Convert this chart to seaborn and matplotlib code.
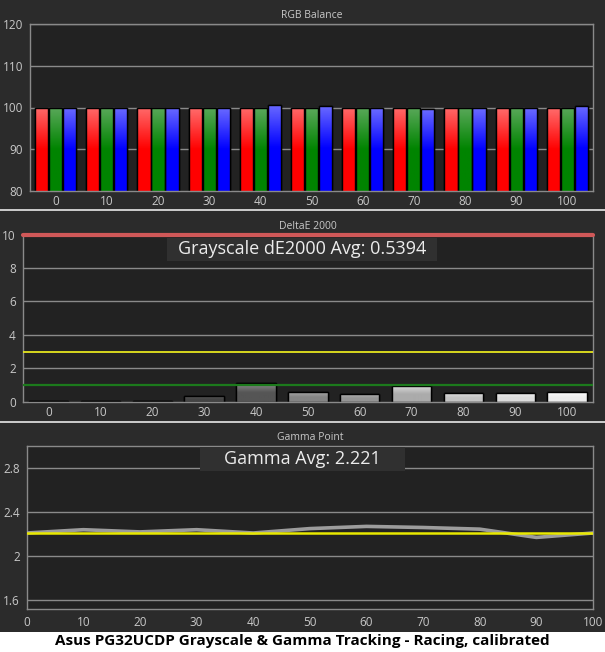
import numpy as np
import pandas as pd
import matplotlib
matplotlib.use("Agg")
import matplotlib.pyplot as plt
import seaborn as sns
from matplotlib.patches import Rectangle
from matplotlib.colors import LinearSegmentedColormap, to_rgb
from matplotlib.lines import Line2D

# ---------------- data ----------------
levels = [0, 10, 20, 30, 40, 50, 60, 70, 80, 90, 100]
level_labels = [str(v) for v in levels]
rgb_red = [100.0, 100.0, 100.0, 99.8, 100.0, 100.0, 100.0, 100.0, 100.0, 99.8, 99.8]
rgb_green = [100.0, 100.0, 100.0, 100.0, 99.8, 99.8, 100.0, 100.0, 100.0, 100.0, 100.0]
rgb_blue = [100.0, 100.0, 100.0, 100.0, 100.6, 100.4, 99.8, 99.6, 99.8, 99.8, 100.4]
delta_e = [0.02, 0.02, 0.03, 0.35, 1.12, 0.58, 0.45, 0.95, 0.52, 0.52, 0.58]
gamma = [2.21, 2.24, 2.22, 2.24, 2.21, 2.25, 2.27, 2.26, 2.245, 2.17, 2.21]
gamma_target = 2.212
de_avg_text = "Grayscale dE2000 Avg: 0.5394"
gamma_avg_text = "Gamma Avg: 2.221"
footer = "Asus PG32UCDP Grayscale & Gamma Tracking - Racing, calibrated"

# ---------------- style ----------------
sns.set_style("dark")
plt.rcParams['font.family'] = ['Open Sans', 'DejaVu Sans']
FIG_BG = "#2b2b2b"
AX_BG = "#222222"
GRID = "#8a8a8a"
TXT = "#c8c8c8"

W, H = 605, 652
fig = plt.figure(figsize=(W / 100, H / 100), dpi=100, facecolor=FIG_BG)


def ax_rect(l, r, t, b):
    return [l / W, (H - b) / H, (r - l) / W, (b - t) / H]


def style_ax(ax, title):
    ax.set_facecolor(AX_BG)
    for s in ax.spines.values():
        s.set_color(GRID)
        s.set_linewidth(1.0)
        s.set_visible(True)
    ax.tick_params(axis='both', colors=GRID, labelcolor=TXT, labelsize=8.5,
                   length=3, width=1, pad=2)
    ax.set_title(title, color=TXT, fontsize=7.5, pad=4)
    ax.set_xlabel("")
    ax.set_ylabel("")
    ax.grid(False)


def gradient_fill(ax, patch, top_color, bottom_color, ylo):
    x0, y0 = patch.get_x(), patch.get_y()
    w, h = patch.get_width(), patch.get_height()
    y_top = y0 + h
    y_bot = max(y0, ylo)
    if y_top <= y_bot:
        return
    cmap = LinearSegmentedColormap.from_list("g", [bottom_color, bottom_color, top_color])
    grad = np.linspace(0, 1, 64).reshape(-1, 1)
    im = ax.imshow(grad, cmap=cmap, aspect='auto', origin='lower',
                   extent=[x0, x0 + w, y_bot, y_top], zorder=patch.get_zorder() + 0.1,
                   interpolation='bilinear')
    im.set_clip_path(patch)
    edge = Rectangle((x0, y0), w, h, fill=False, edgecolor='black', linewidth=1.0,
                     zorder=patch.get_zorder() + 0.2)
    ax.add_patch(edge)


# ---------------- panel 1: RGB balance ----------------
ax1 = fig.add_axes(ax_rect(30, 593, 24, 191))
df_rgb = pd.DataFrame({
    "level": level_labels * 3,
    "value": rgb_red + rgb_green + rgb_blue,
    "channel": ["R"] * 11 + ["G"] * 11 + ["B"] * 11,
})
pal = {"R": "#ff1010", "G": "#108a10", "B": "#1010ff"}
sns.barplot(data=df_rgb, x="level", y="value", hue="channel", order=level_labels,
            hue_order=["R", "G", "B"], palette=pal, width=0.82, gap=0.06,
            edgecolor="black", linewidth=1.0, ax=ax1, legend=False, saturation=1)
ax1.set_ylim(80, 120)
ax1.set_xlim(-0.5, 10.5)
ax1.set_yticks([80, 90, 100, 110, 120])
for yv in [90, 100, 110, 120]:
    ax1.axhline(yv, color=GRID, lw=1.0, zorder=0.5)
grads = {"R": ("#ff6a6a", "#ff0000"), "G": ("#5aa85a", "#008400"), "B": ("#6a6aff", "#0000ff")}
chan_cycle = ["R", "G", "B"]
for i, cont in enumerate(ax1.containers):
    top, bot = grads[chan_cycle[i]]
    for p in cont.patches:
        gradient_fill(ax1, p, top, bot, 80)
style_ax(ax1, "RGB Balance")
ax1.set_xticks(range(len(levels)))
ax1.set_xticklabels(level_labels)
ax1.tick_params(axis='x', length=0, pad=3)
ax1.set_xticks(np.arange(-0.5, 11, 1), minor=True)
ax1.tick_params(axis='x', which='minor', length=3, color=GRID, width=1)

# ---------------- panel 2: DeltaE 2000 ----------------
ax2 = fig.add_axes(ax_rect(22.7, 593, 234.5, 401.7))
df_de = pd.DataFrame({"level": level_labels, "dE": delta_e})
gray_tops = ["#3a3a3a", "#3a3a3a", "#3c3c3c", "#5e5e5e", "#8a8a8a", "#a8a8a8",
             "#b4b4b4", "#d8d8d8", "#e0e0e0", "#efefef", "#ffffff"]
gray_bots = ["#2a2a2a", "#2a2a2a", "#2c2c2c", "#444444", "#555555", "#858585",
             "#959595", "#ababab", "#c4c4c4", "#dcdcdc", "#ececec"]
sns.barplot(data=df_de, x="level", y="dE", order=level_labels, color="#888888",
            width=0.76, edgecolor="black", linewidth=1.0, ax=ax2, saturation=1)
ax2.set_ylim(0, 10)
ax2.set_xlim(-0.5, 10.5)
ax2.set_yticks([0, 2, 4, 6, 8, 10])
for yv in [2, 4, 6, 8]:
    ax2.axhline(yv, color=GRID, lw=1.0, zorder=0.5)
for p, tcol, bcol in zip(ax2.containers[0].patches, gray_tops, gray_bots):
    gradient_fill(ax2, p, tcol, bcol, 0)
ax2.axhline(10, color="#d05858", lw=3.0, zorder=5, clip_on=False)
ax2.axhline(3, color="#e6e61e", lw=1.3, zorder=5)
ax2.axhline(1, color="#1c7a1c", lw=1.6, zorder=5)
style_ax(ax2, "DeltaE 2000")
ax2.set_xticks(range(len(levels)))
ax2.set_xticklabels(level_labels)
ax2.tick_params(axis='x', length=0, pad=3)
ax2.set_xticks(np.arange(-0.5, 11, 1), minor=True)
ax2.tick_params(axis='x', which='minor', length=3, color=GRID, width=1)

# ---------------- panel 3: Gamma point ----------------
ax3 = fig.add_axes(ax_rect(26.7, 593, 446, 609))
df_g = pd.DataFrame({"level": levels, "gamma": gamma})
ax3.set_ylim(1.52, 3.0)
ax3.set_xlim(0, 100)
for yv in [1.6, 2.0, 2.4, 2.8]:
    ax3.axhline(yv, color=GRID, lw=1.0, zorder=0.5)
sns.lineplot(data=df_g, x="level", y="gamma", color="#9c9c9c", lw=2.6, ax=ax3, zorder=3)
ax3.axhline(gamma_target, color="#e8e800", lw=1.8, zorder=4)
style_ax(ax3, "Gamma Point")
ax3.set_yticks([1.6, 2.0, 2.4, 2.8])
ax3.set_yticklabels(["1.6", "2", "2.4", "2.8"])
ax3.set_xticks(levels)
ax3.set_xticklabels(level_labels)
ax3.tick_params(axis='x', length=3, pad=2)

# ---------------- annotation boxes ----------------
def fig_box(l, r, t, b, text, fs):
    fig.patches.append(Rectangle((l / W, (H - b) / H), (r - l) / W, (b - t) / H,
                                 transform=fig.transFigure, facecolor="#303030",
                                 edgecolor="none", zorder=10))
    fig.text((l + r) / 2 / W, (H - (t + b) / 2) / H, text, color="#ececec",
             fontsize=fs, ha='center', va='center', zorder=11)

fig_box(167, 437, 238, 261, de_avg_text, 13)
fig_box(200, 405, 447, 471, gamma_avg_text, 13)

# ---------------- separators and footer ----------------
for yy in [210, 421.5]:
    fig.add_artist(Line2D([0, 1], [(H - yy) / H] * 2, transform=fig.transFigure,
                          color="#e8e8e8", lw=1.2))
fig.patches.append(Rectangle((0, 0), 1, (H - 631.5) / H, transform=fig.transFigure,
                             facecolor="white", edgecolor="none", zorder=1))
fig.text(0.5, (H - 641.5) / H, footer, color="black", fontsize=11, fontweight='bold',
         ha='center', va='center', zorder=2)

fig.savefig("out.png", dpi=100, facecolor=FIG_BG)
